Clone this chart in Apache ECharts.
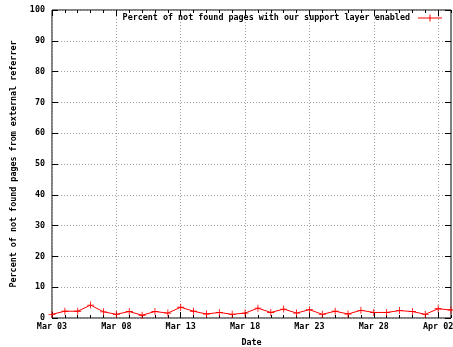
<!DOCTYPE html>
<html><head><meta charset="utf-8">
<script src="https://cdn.jsdelivr.net/npm/echarts@6/dist/echarts.min.js"></script>
<style>html,body{margin:0;padding:0;background:#fff}#c{width:453px;height:347px}</style>
</head><body><div id="c"></div>
<script>
const categories = ["Mar 03","Mar 04","Mar 05","Mar 06","Mar 07","Mar 08","Mar 09","Mar 10","Mar 11","Mar 12","Mar 13","Mar 14","Mar 15","Mar 16","Mar 17","Mar 18","Mar 19","Mar 20","Mar 21","Mar 22","Mar 23","Mar 24","Mar 25","Mar 26","Mar 27","Mar 28","Mar 29","Mar 30","Mar 31","Apr 01","Apr 02","Apr 03"];
const percentValues = [1.2,2.2,2.2,4.2,2.0,1.2,2.1,0.9,2.1,1.6,3.5,2.2,1.3,1.8,1.2,1.6,3.2,1.8,2.9,1.6,2.7,1.2,2.2,1.3,2.5,1.8,1.8,2.4,2.1,1.2,3.0,2.6];
const seriesName = "Percent of not found pages with our support layer enabled";
const yTicks = [0,10,20,30,40,50,60,70,80,90,100];

const font = {fontFamily:'DejaVu Sans Mono', fontWeight:'bold', fontSize:8.4, color:'#000'};
const plus = 'path://M-0.12,-1H0.12V-0.12H1V0.12H0.12V1H-0.12V0.12H-1V-0.12H-0.12Z';
const legendIcon = 'path://M0,3H24V4H0Z M11.5,0H12.5V7H11.5Z';
const chart = echarts.init(document.getElementById('c'), null, {renderer:'canvas'});
const baseX = {
  type:'category', data:categories, boundaryGap:false,
  axisLine:{show:false}, axisLabel:{show:false}, splitLine:{show:false}
};
chart.setOption({
  animation:false,
  grid:{left:52, right:2, top:10, bottom:29, show:true, borderColor:'#000', borderWidth:1,
        containLabel:false, outerBoundsMode:'none'},
  legend:{
    right:6, top:9, align:'right', itemWidth:24, itemHeight:7, itemGap:0,
    textStyle:Object.assign({}, font, {padding:[0,3,0,0]}),
    data:[{name:seriesName, icon:legendIcon, itemStyle:{color:'#ff0000'}}]
  },
  xAxis:[
    Object.assign({}, baseX, {
      position:'bottom', name:'Date', nameLocation:'middle', nameGap:21,
      nameTextStyle:font,
      axisLabel:Object.assign({show:true, interval:4, margin:5}, font),
      axisTick:{show:true, inside:true, interval:0, length:3, lineStyle:{color:'#000'}},
      splitLine:{show:true, interval:4, lineStyle:{color:'#a0a0a0', type:[1,2], width:1}}
    }),
    Object.assign({}, baseX, {position:'bottom',
      axisTick:{show:true, inside:true, interval:4, length:6, lineStyle:{color:'#000'}}}),
    Object.assign({}, baseX, {position:'top',
      axisTick:{show:true, inside:true, interval:0, length:3, lineStyle:{color:'#000'}}}),
    Object.assign({}, baseX, {position:'top',
      axisTick:{show:true, inside:true, interval:4, length:6, lineStyle:{color:'#000'}}})
  ],
  yAxis:[
    {type:'value', min:0, max:100, interval:10, position:'left',
     name:'Percent of not found pages from external referrer', nameLocation:'middle', nameGap:34,
     nameTextStyle:font,
     axisLine:{show:false},
     axisLabel:Object.assign({margin:7, formatter:v=>yTicks.includes(v)?String(v):''}, font),
     axisTick:{show:true, inside:true, length:6, lineStyle:{color:'#000'}},
     splitLine:{show:true, lineStyle:{color:'#a0a0a0', type:[1,2], width:1}}},
    {type:'value', min:0, max:100, interval:10, position:'right',
     axisLine:{show:false}, axisLabel:{show:false},
     axisTick:{show:true, inside:true, length:6, lineStyle:{color:'#000'}},
     splitLine:{show:false}}
  ],
  series:[{
    name:seriesName, type:'line', data:percentValues,
    xAxisIndex:0, yAxisIndex:0,
    symbol:plus, symbolSize:7, showAllSymbol:true,
    lineStyle:{color:'#ff0000', width:1},
    itemStyle:{color:'#ff0000'}
  }]
});
</script></body></html>
